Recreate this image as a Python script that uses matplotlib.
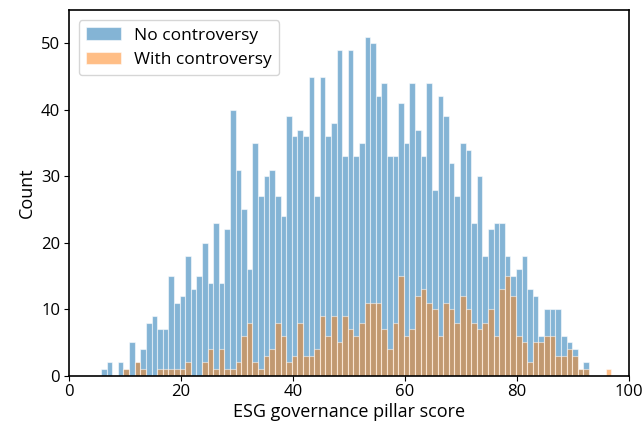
import numpy as np
import matplotlib
matplotlib.use('Agg')
from matplotlib import pyplot as plt

# counts per 1-point bin, first bin starts at 5.8
bin_start = 5.8
bin_width = 1.0

no_controversy = [1, 2, 0, 2, 1, 5, 2, 4, 8, 9,
                  7, 7, 15, 11, 12, 18, 13, 15, 20, 14,
                  23, 14, 22, 40, 31, 25, 16, 35, 27, 30,
                  31, 27, 24, 39, 36, 37, 36, 45, 27, 45,
                  36, 38, 49, 33, 49, 33, 35, 51, 50, 42,
                  44, 33, 33, 41, 35, 44, 37, 33, 44, 28,
                  42, 39, 32, 27, 35, 34, 23, 30, 18, 22,
                  23, 23, 18, 15, 16, 18, 13, 12, 6, 10,
                  10, 10, 6, 5, 4, 1, 2, 0, 0, 0,
                  0]
with_controversy = [0, 0, 0, 0, 1, 0, 2, 1, 0, 0,
                    1, 1, 1, 1, 1, 2, 0, 0, 2, 4,
                    1, 4, 1, 1, 2, 6, 8, 2, 1, 3,
                    4, 8, 6, 2, 3, 8, 3, 3, 4, 9,
                    6, 9, 5, 9, 7, 6, 8, 11, 11, 11,
                    7, 4, 8, 15, 6, 7, 12, 13, 11, 10,
                    6, 11, 10, 8, 12, 10, 8, 7, 8, 10,
                    6, 13, 15, 12, 6, 5, 2, 5, 5, 6,
                    6, 3, 3, 4, 3, 1, 1, 0, 0, 0,
                    1]

edges = bin_start + bin_width * np.arange(len(no_controversy))

plt.rcParams['font.family'] = ['Open Sans', 'DejaVu Sans']

fig = plt.figure(figsize=(6.44, 4.30), dpi=100)
ax = fig.add_axes([0.1064, 0.1263, 0.8708, 0.8504])

ax.bar(edges, no_controversy, width=bin_width, align='edge', color='tab:blue',
       alpha=0.55, edgecolor='white', linewidth=0.8, label='No controversy')
ax.bar(edges, with_controversy, width=bin_width, align='edge', color='tab:orange',
       alpha=0.5, edgecolor='white', linewidth=0.8, label='With controversy')

ax.set_xlim(0, 100)
ax.set_ylim(0, 55)
ax.set_xticks(range(0, 101, 20))
ax.set_yticks(range(0, 51, 10))
ax.tick_params(labelsize=12, pad=2.5)
for s in ax.spines.values():
    s.set_linewidth(1.2)
ax.set_xlabel('ESG governance pillar score', fontsize=13, labelpad=2)
ax.set_ylabel('Count', fontsize=13, labelpad=4)
ax.legend(loc='upper left', fontsize=12.5, borderaxespad=0.6)

fig.savefig('out.png', dpi=100)
